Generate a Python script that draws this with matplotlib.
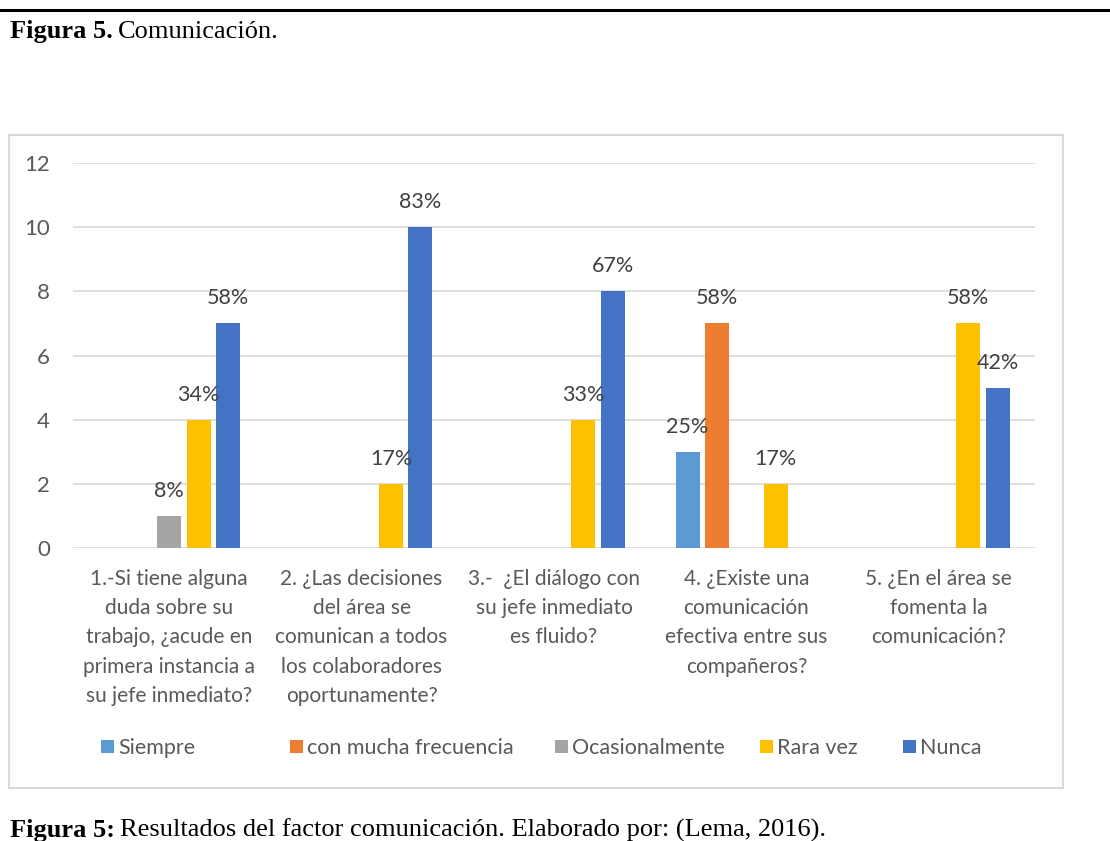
import matplotlib
matplotlib.use("Agg")
import matplotlib.pyplot as plt
from matplotlib.patches import Rectangle, Patch
from matplotlib.lines import Line2D
import numpy as np

# ---- data ----
categories = [
    "1.-Si tiene alguna\nduda sobre su\ntrabajo, ¿acude en\nprimera instancia a\nsu jefe inmediato?",
    "2. ¿Las decisiones\ndel área se\ncomunican a todos\nlos colaboradores\noportunamente?",
    "3.-  ¿El diálogo con\nsu jefe inmediato\nes fluido?",
    "4. ¿Existe una\ncomunicación\nefectiva entre sus\ncompañeros?",
    "5. ¿En el área se\nfomenta la\ncomunicación?",
]
series_names = ["Siempre", "con mucha frecuencia", "Ocasionalmente", "Rara vez", "Nunca"]
siempre = [0, 0, 0, 3, 0]
con_mucha_frecuencia = [0, 0, 0, 7, 0]
ocasionalmente = [1, 0, 0, 0, 0]
rara_vez = [4, 2, 4, 2, 7]
nunca = [7, 10, 8, 0, 5]
siempre_pct = ["", "", "", "25%", ""]
con_mucha_frecuencia_pct = ["", "", "", "58%", ""]
ocasionalmente_pct = ["8%", "", "", "", ""]
rara_vez_pct = ["34%", "17%", "33%", "17%", "58%"]
nunca_pct = ["58%", "83%", "67%", "", "42%"]
y_ticks = [0, 2, 4, 6, 8, 10, 12]

series_values = [siempre, con_mucha_frecuencia, ocasionalmente, rara_vez, nunca]
series_pcts = [siempre_pct, con_mucha_frecuencia_pct, ocasionalmente_pct, rara_vez_pct, nunca_pct]
colors = ["#5B9BD5", "#ED7D31", "#A5A5A5", "#FFC000", "#4472C4"]

TXT = "#595959"
GRID = "#D9D9D9"
W, H = 1110, 841

plt.rcParams["font.family"] = ["Lato", "DejaVu Sans"]

fig = plt.figure(figsize=(W / 100, H / 100), dpi=100)
fig.patch.set_facecolor("white")

def fx(px):
    return px / W

def fy(py):
    return 1 - py / H

# top rule of the page
fig.add_artist(Line2D([0, 1], [fy(10), fy(10)], color="black", lw=2.2,
                      transform=fig.transFigure))

# chart frame
fig.add_artist(Rectangle((fx(9), fy(788)), fx(1063) - fx(9), fy(135) - fy(788),
                         transform=fig.transFigure, fill=False,
                         edgecolor=GRID, lw=1.5))

ax = fig.add_axes([fx(73), fy(548), fx(1035) - fx(73), fy(163) - fy(548)])

x = np.arange(len(categories))
slot = 0.153
bar_w = 0.125
for i, (vals, pcts, col) in enumerate(zip(series_values, series_pcts, colors)):
    offs = (i - 2) * slot
    for xi, v, p in zip(x, vals, pcts):
        if v == 0:
            continue
        ax.bar(xi + offs, v, width=bar_w, color=col, zorder=3)
        ax.annotate(p, (xi + offs, v), xytext=(0, 18), textcoords="offset points",
                    ha="center", va="center", fontsize=15.5, color="#404040", zorder=4)

ax.set_xlim(-0.5, len(categories) - 0.5)
ax.set_ylim(0, 12)
ax.set_yticks(y_ticks)
ax.set_yticklabels([str(t) for t in y_ticks], fontsize=16, color=TXT)
ax.set_xticks(x)
ax.set_xticklabels(categories, fontsize=15, color=TXT, linespacing=1.58, va="top")
ax.tick_params(axis="y", length=0, pad=16.5)
ax.tick_params(axis="x", length=0, pad=15)
ax.grid(axis="y", color=GRID, lw=1.2, zorder=0)
ax.set_axisbelow(True)
for s in ax.spines.values():
    s.set_visible(False)

# legend entries, laid out across the bottom of the frame
legend_x = [101, 290, 555, 760, 903]
for name, col, lx in zip(series_names, colors, legend_x):
    fig.legend(handles=[Patch(facecolor=col, edgecolor="none")], labels=[name],
               loc="center left", bbox_to_anchor=(fx(lx), fy(748)),
               frameon=False, fontsize=15.5, labelcolor=TXT,
               handlelength=0.6, handleheight=0.6, handletextpad=0.2,
               borderpad=0, borderaxespad=0)

# page text around the chart
fig.canvas.draw()
renderer = fig.canvas.get_renderer()

def two_part(xp, yp, bold, regular, size, va):
    t = fig.text(fx(xp), fy(yp), bold, fontsize=size, fontweight="bold",
                 family="Liberation Serif", color="black", va=va)
    bb = t.get_window_extent(renderer=renderer)
    fig.text(bb.x1 / W + fx(5), fy(yp), regular, fontsize=size,
             family="Liberation Serif", color="black", va=va)

two_part(10, 38, "Figura 5.", "Comunicación.", 19, "baseline")
two_part(10, 837, "Figura 5:", "Resultados del factor comunicación. Elaborado por: (Lema, 2016).",
         19, "baseline")

fig.savefig("out.png", dpi=100, facecolor="white")
